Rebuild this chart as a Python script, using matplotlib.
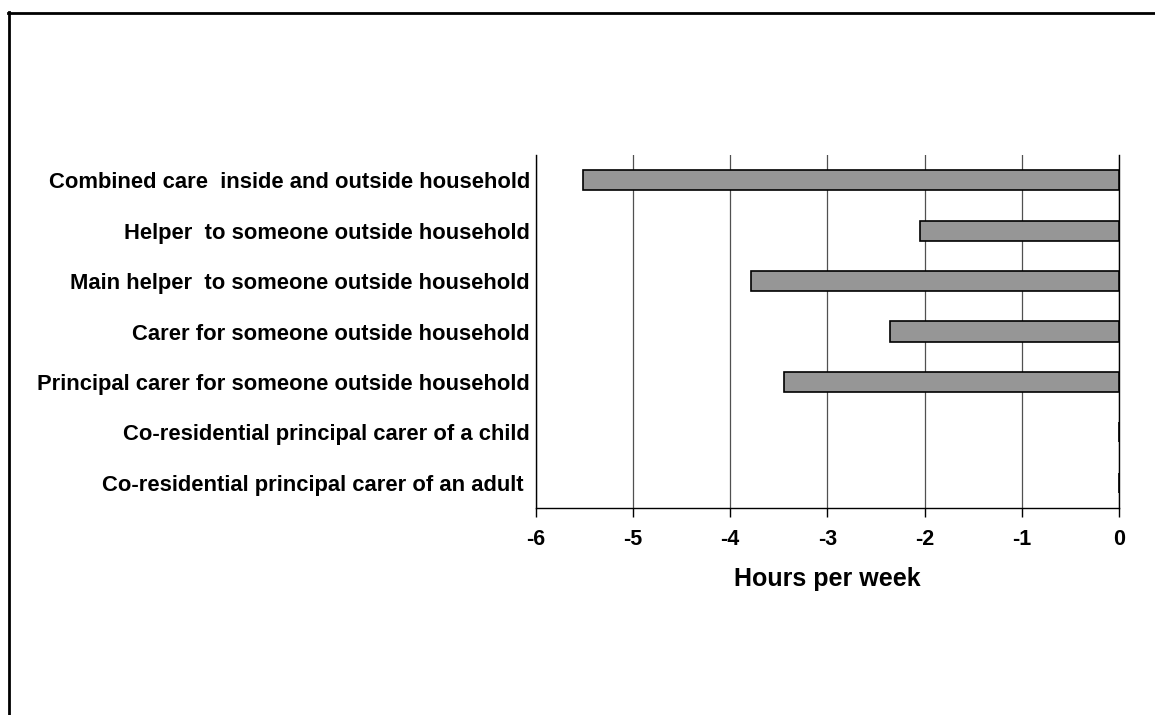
import matplotlib
matplotlib.use("Agg")
import matplotlib.pyplot as plt
from matplotlib.lines import Line2D

categories = [
    "Combined care  inside and outside household",
    "Helper  to someone outside household",
    "Main helper  to someone outside household",
    "Carer for someone outside household",
    "Principal carer for someone outside household",
    "Co-residential principal carer of a child",
    "Co-residential principal carer of an adult ",
]
values = [-5.51, -2.05, -3.78, -2.35, -3.44, 0.0, 0.0]
x_ticks = [-6, -5, -4, -3, -2, -1, 0]
x_label = "Hours per week"

plt.rcParams['font.family'] = ['Liberation Sans', 'DejaVu Sans']
plt.rcParams['font.weight'] = 'bold'

W, H = 1155, 715
fig = plt.figure(figsize=(W / 100, H / 100), dpi=100)
fig.patch.set_facecolor('white')

ax = fig.add_axes([535.5 / W, 1 - 508 / H, (1119 - 535.5) / W, 353 / H])

ypos = list(range(len(categories)))
ax.barh(ypos, values, height=0.40, color='#969696', edgecolor='black',
        linewidth=1.2, zorder=3)

ax.set_ylim(len(categories) - 0.5, -0.5)
ax.set_xlim(-6, 0)
ax.set_xticks(x_ticks)
ax.set_xticklabels([str(t) for t in x_ticks], fontsize=15.5, fontweight='bold')
ax.set_yticks(ypos)
ax.set_yticklabels(categories, fontsize=15.8, fontweight='bold')

ax.tick_params(axis='y', length=0, pad=4)
ax.tick_params(axis='x', length=6.5, width=1, direction='out', pad=8.5, colors='black')

ax.xaxis.grid(True, color='#505050', linewidth=0.9)
ax.set_axisbelow(True)

ax.spines['top'].set_visible(False)
for s in ['left', 'bottom', 'right']:
    ax.spines[s].set_color('black')
    ax.spines[s].set_linewidth(1.0)

ax.set_xlabel(x_label, fontsize=18, fontweight='bold')
ax.xaxis.set_label_coords(0.5, -0.167)

# figure frame (top and left edges visible)
fig.add_artist(Line2D([8.5 / W, 8.5 / W], [1 - 12 / H, 0], transform=fig.transFigure,
                      color='black', linewidth=2.0))
fig.add_artist(Line2D([8 / W, 1.0], [1 - 12.5 / H, 1 - 12.5 / H], transform=fig.transFigure,
                      color='black', linewidth=2.0))

fig.savefig("out.png", dpi=100, facecolor='white')
